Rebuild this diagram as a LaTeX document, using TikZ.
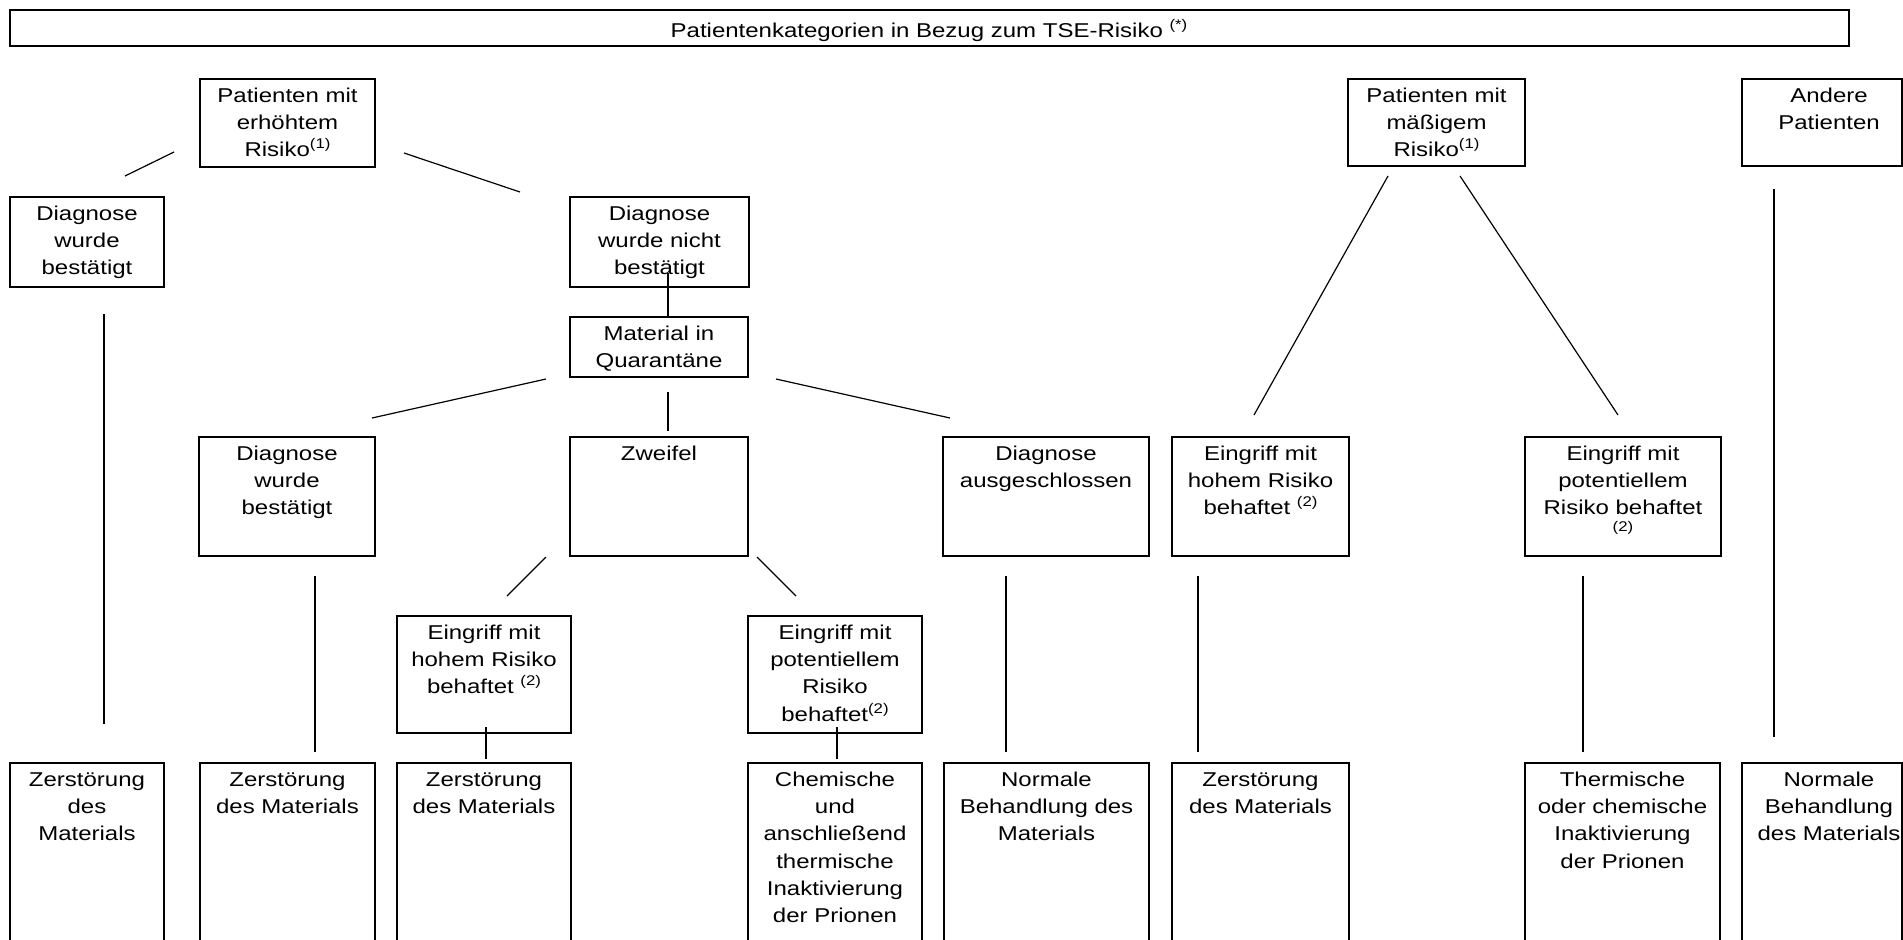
\documentclass[tikz,border=0pt]{standalone}
\usepackage{fontspec}
\setmainfont{Liberation Sans}[FakeStretch=1.2]
\usetikzlibrary{calc}

\newcommand\supmark[1]{\raisebox{4pt}{\fontsize{7pt}{8pt}\selectfont(#1)}}

\tikzset{
  bx/.style={draw, line width=1pt, rectangle, inner sep=0pt, outer sep=0pt},
  tx/.style={font=\fontsize{10pt}{13.6pt}\selectfont, align=center, inner xsep=0pt, inner ysep=2.3pt,
             execute at begin node={\rule{0pt}{9.2pt}}},
  conn/.style={line width=0.6pt},
}

% name, x1, y1, x2, y2, text   (pixel coordinates, y downwards)
\newcommand\mkbox[6]{%
  \pgfmathsetmacro\bw{(#4-#2)*0.5}%
  \pgfmathsetmacro\bh{(#5-#3)*0.5}%
  \pgfmathsetmacro\tw{(#4-#2)*0.5-2}%
  \node[bx, minimum width=\bw pt, minimum height=\bh pt, anchor=north west] (#1) at (#2,#3) {};
  \node[tx, text width=\tw pt, anchor=north] (#1t) at (#1.north) {#6};
}
% segment: name, x1, y1, x2, y2
\newcommand\seg[5]{%
  \coordinate (#1s) at (#2,#3);
  \coordinate (#1e) at (#4,#5);
  \draw[conn] (#1s) -- (#1e);
}

\begin{document}
\begin{tikzpicture}[x=0.5pt, y=-0.5pt]
\useasboundingbox (0,0) rectangle (1903,939);
\clip (0,0) rectangle (1903,939);

% title
\pgfmathsetmacro\tbw{(1849-10)*0.5}
\node[bx, minimum width=\tbw pt, minimum height=18pt, anchor=north west] (T) at (10,10) {};
\node[tx, anchor=base] (Tt) at (929,37) {Patientenkategorien in Bezug zum TSE-Risiko \supmark{*}};

% top row
\mkbox{A}{200}{79}{375}{167}{Patienten mit\\erhöhtem\\Risiko\supmark{1}}
\mkbox{D}{1348}{79}{1525}{166}{Patienten mit\\mäßigem\\Risiko\supmark{1}}
\node[bx, minimum width=80pt, minimum height=43.5pt, anchor=north west] (E) at (1742,79) {};
\node[tx, text width=78pt, anchor=north] (Et) at ($(E.north)+(7,0)$) {Andere\\Patienten};

% second row
\mkbox{B1}{10}{197}{164}{287}{Diagnose\\wurde\\bestätigt}
\mkbox{B2}{570}{197}{749}{287}{Diagnose\\wurde nicht\\bestätigt}
\mkbox{M}{570}{317}{748}{377}{Material in\\Quarantäne}

% third row
\mkbox{C1}{199}{437}{375}{556}{Diagnose\\wurde\\bestätigt}
\mkbox{C2}{570}{437}{748}{556}{Zweifel}
\mkbox{C3}{943}{437}{1149}{556}{Diagnose\\ausgeschlossen}
\mkbox{C4}{1172}{437}{1349}{556}{Eingriff mit\\hohem Risiko\\behaftet \supmark{2}}
\mkbox{C5}{1525}{437}{1721}{556}{Eingriff mit\\potentiellem\\Risiko behaftet\\[-5.1pt]{\fontsize{7pt}{8pt}\selectfont(2)}}

% fourth row
\mkbox{F1}{397}{616}{571}{733}{Eingriff mit\\hohem Risiko\\behaftet \supmark{2}}
\mkbox{F2}{748}{616}{922}{733}{Eingriff mit\\potentiellem\\Risiko\\behaftet\supmark{2}}

% bottom row
\mkbox{G1}{10}{763}{164}{950}{Zerstörung\\des\\Materials}
\mkbox{G2}{200}{763}{375}{950}{Zerstörung\\des Materials}
\mkbox{G3}{397}{763}{571}{950}{Zerstörung\\des Materials}
\mkbox{G4}{748}{763}{922}{950}{Chemische\\und\\anschließend\\thermische\\Inaktivierung\\der Prionen}
\mkbox{G5}{944}{763}{1149}{950}{Normale\\Behandlung des\\Materials}
\mkbox{G6}{1172}{763}{1349}{950}{Zerstörung\\des Materials}
\mkbox{G7}{1525}{763}{1720}{950}{Thermische\\oder chemische\\Inaktivierung\\der Prionen}
\node[bx, minimum width=80pt, minimum height=93.5pt, anchor=north west] (G8) at (1742,763) {};
\node[tx, text width=78pt, anchor=north] (G8t) at ($(G8.north)+(7,0)$) {Normale\\Behandlung\\des Materials};

% connectors
\seg{l1}{174}{152}{125}{176}
\seg{l2}{404}{153}{520}{192}
\seg{l3}{668}{273}{668}{318}
\seg{l4}{546}{379}{372}{418}
\seg{l5}{668}{392}{668}{431}
\seg{l6}{776}{379}{950}{418}
\seg{l7}{546}{557}{507}{596}
\seg{l8}{757}{557}{796}{596}
\seg{l9}{104}{314}{104}{724}
\seg{l10}{315}{576}{315}{752}
\seg{l11}{486}{727}{486}{759}
\seg{l12}{837}{727}{837}{759}
\seg{l13}{1006}{576}{1006}{752}
\seg{l14}{1198}{576}{1198}{752}
\seg{l15}{1583}{576}{1583}{752}
\seg{l16}{1388}{176}{1254}{415}
\seg{l17}{1460}{176}{1618}{415}
\seg{l18}{1774}{189}{1774}{737}
\end{tikzpicture}
\end{document}
